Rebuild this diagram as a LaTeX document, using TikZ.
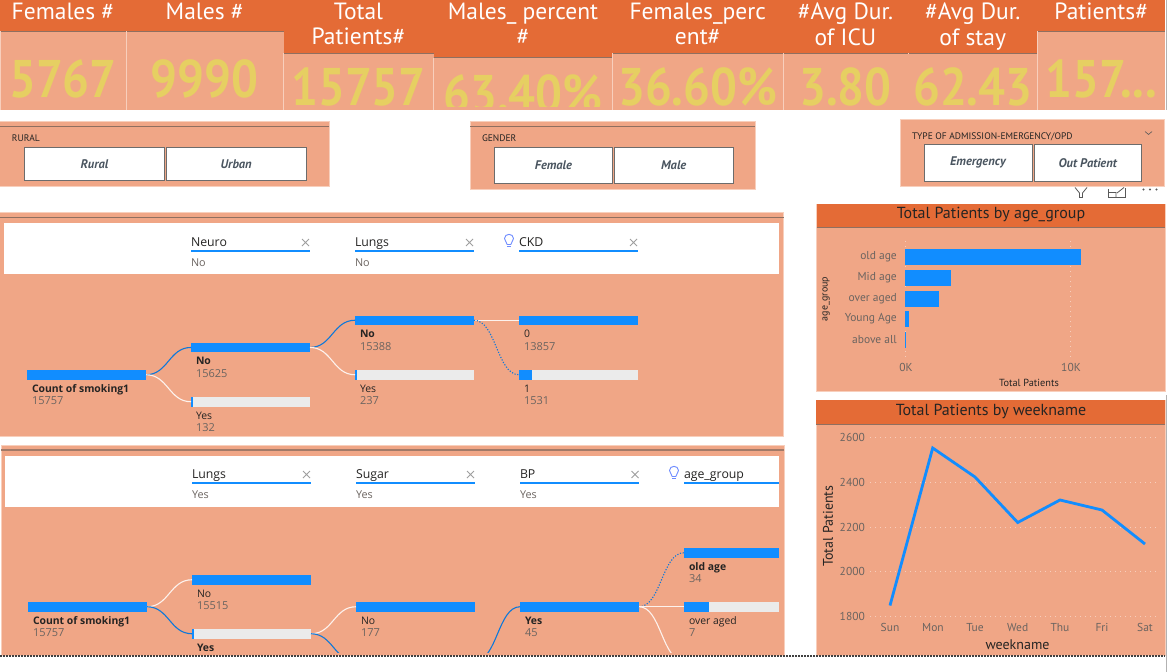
\documentclass[tikz,border=0pt]{standalone}
\usepackage{fontspec}
\setmainfont{Open Sans}
\newfontfamily\din{PT Sans}
\newfontfamily\seg{Open Sans}
\definecolor{hdr}{HTML}{E46B36}
\definecolor{body}{HTML}{F0A686}
\definecolor{edge}{HTML}{F8CFBC}
\definecolor{rule}{HTML}{8F6F60}
\definecolor{num}{HTML}{E6CF62}
\definecolor{pbi}{HTML}{118DFF}
\definecolor{track}{HTML}{EBEBEB}
\definecolor{ink}{HTML}{252423}
\definecolor{soft}{HTML}{6B6460}
\definecolor{slate}{HTML}{4A5560}
\definecolor{bulb}{HTML}{6F8CFF}
\tikzset{
  x=1pt,y=-1pt,
  txt/.style={inner sep=0pt,outer sep=0pt,anchor=base west},
  panel/.style={fill=body,draw=edge,line width=0.8pt},
  headband/.style={fill=hdr,draw=none},
  btn/.style={fill=white,draw=gray!85!black,line width=0.9pt},
  barnode/.style={inner sep=0pt,outer sep=0pt,anchor=north west,minimum height=9.5pt,draw=none},
  trackbar/.style={barnode,fill=track},
  bluebar/.style={barnode,fill=pbi},
  linkblue/.style={draw=pbi!85!black,line width=1.1pt},
  linkwhite/.style={draw=white!85!body,line width=1.1pt},
  linkdot/.style={draw=pbi!85!black,line width=1.1pt,dash pattern=on 1.2pt off 1.6pt},
  grid/.style={draw=white!45!body,line width=0.7pt,dash pattern=on 1pt off 4pt},
  field/.style={draw=pbi,line width=1.3pt},
  xmark/.style={draw=gray!75,line width=0.9pt},
  icon/.style={draw=gray!70!black,line width=0.8pt},
}
\newcommand{\kpicard}[7]{% name x0 x1 headbottom header value valuebaseline
  \fill[body] (#2,0) rectangle (#3,110);
  \fill[headband] (#2,0) rectangle (#3,#4);
  \draw[rule,line width=0.8pt] (#2,#4) -- (#3,#4);
  \draw[edge,line width=0.7pt] (#2,#4) -- (#2,110);
  \node[inner sep=0pt,outer sep=0pt,anchor=north,align=center,text=white,font=\din\fontsize{23.5}{25.5}\selectfont] (#1h) at ({(#2+#3)/2},3) {#5};
  \begin{scope}
    \clip (#2,#4) rectangle (#3,106.5);
    \node[inner sep=0pt,outer sep=0pt,anchor=base,text=num,font=\din\bfseries\fontsize{53}{53}\selectfont] (#1v) at ({(#2+#3)/2},#7) {\scalebox{0.895}[1]{#6}};
  \end{scope}
}
\newcommand{\slicerbtn}[6]{% name x0 y0 x1 y1 text
  \node[btn,inner sep=0pt,anchor=north west,minimum width={#4-#2},minimum height={#5-#3},text=slate,font=\din\bfseries\itshape\fontsize{12.5}{14}\selectfont] (#1) at (#2-0.5,#3) {#6};
}
\newcommand{\treebar}[8]{% name x ytop w fillw label value labelfont
  \node[trackbar,minimum width=#4] (#1) at (#2,#3) {};
  \node[bluebar,minimum width=#5] (#1f) at (#2,#3) {};
  \node[txt,text=ink,font=\seg#8\fontsize{10.4}{12}\selectfont] (#1l) at (#2+5,#3+22) {#6};
  \node[txt,text=soft,font=\seg\fontsize{11}{12}\selectfont] (#1v) at (#2+5,#3+34.5) {#7};
}
\newcommand{\treelink}[3]{\draw[#1] (#2.east) .. controls +(22,0) and +(-22,0) .. (#3.west);}
\newcommand{\fieldhead}[6]{% name x0 x1 y text sub
  \node[txt,text=ink,font=\seg\fontsize{12.3}{14}\selectfont] (#1t) at (#2,#4-5) {#5};
  \node[txt,text=soft,font=\seg\fontsize{10.8}{12}\selectfont] (#1s) at (#2,#4+15) {#6};
  \draw[field] (#2,#4) -- (#3,#4);
}
\newcommand{\xm}[2]{\draw[xmark] (#1-3.5,#2-3.5) -- (#1+3.5,#2+3.5) (#1-3.5,#2+3.5) -- (#1+3.5,#2-3.5);}
\newcommand{\bulbicon}[2]{%
  \draw[draw=bulb,line width=0.9pt] (#1-1.8,#2+3.5) .. controls (#1-2,#2+1) and (#1-4.5,#2) .. (#1-4.5,#2-2.5) .. controls (#1-4.5,#2-8) and (#1+4.5,#2-8) .. (#1+4.5,#2-2.5) .. controls (#1+4.5,#2) and (#1+2,#2+1) .. (#1+1.8,#2+3.5) -- cycle;
  \draw[draw=bulb,line width=0.9pt] (#1-1.8,#2+5.5) -- (#1+1.8,#2+5.5);
}
\begin{document}
\begin{tikzpicture}
\useasboundingbox (0,0) rectangle (1168,672);
\fill[white] (0,0) rectangle (1168,672);

% KPI cards
\kpicard{a}{0}{126}{31}{Females \#}{5767}{97}
\kpicard{b}{126}{283.5}{31}{Males \#}{9990}{97}
\kpicard{c}{283.5}{433.5}{53}{Total\\Patients\#}{15757}{105}
\kpicard{d}{433.5}{612.5}{57.5}{Males\_ percent\\\#}{63.40\%}{112}
\kpicard{e}{612.5}{783}{53}{Females\_perc\\ent\#}{36.60\%}{105}
\kpicard{f}{783}{908}{53}{\#Avg Dur.\\of ICU}{3.80}{105}
\kpicard{g}{908}{1037.5}{53}{\#Avg Dur.\\of stay}{62.43}{105}
\kpicard{h}{1037.5}{1165}{31}{Patients\#}{157...}{97}
\draw[body,line width=0.9pt] (908,54) -- (908,110);

% Slicers
\fill[panel] (-2,121) rectangle (329,186);
\draw[rule,line width=0.9pt] (0,126) -- (329,126);
\node[txt,text=ink,font=\din\fontsize{9.5}{11}\selectfont] (s1l) at (12,141) {RURAL};
\slicerbtn{s1a}{24.5}{147}{164.5}{180}{Rural}
\slicerbtn{s1b}{166}{147}{306.5}{180}{Urban}

\fill[panel] (470,121) rectangle (755,189);
\draw[rule,line width=0.9pt] (470,126) -- (755,126);
\node[txt,text=ink,font=\din\fontsize{9.5}{11}\selectfont] (s2l) at (482,141) {GENDER};
\slicerbtn{s2a}{494.5}{147}{612.5}{183}{Female}
\slicerbtn{s2b}{614.5}{147}{733}{183}{Male}

\fill[panel] (900,119) rectangle (1164,186.5);
\node[txt,text=ink,font=\din\fontsize{9.5}{11}\selectfont] (s3l) at (912,139) {TYPE OF ADMISSION-EMERGENCY/OPD};
\slicerbtn{s3a}{924}{144}{1032}{180.5}{Emergency}
\slicerbtn{s3b}{1034}{144}{1141.5}{180.5}{Out Patient}
\draw[icon,line width=0.6pt] (1145,131.5) -- (1148.5,134.5) -- (1152,131.5);

% Visual header icons
\draw[icon] (1075,187.5) -- (1079.5,193) -- (1079.5,197.5) -- (1082.5,197.5) -- (1082.5,193) -- (1087,187.5);
\draw[icon] (1108,189) -- (1108,197.5) -- (1125,197.5) -- (1125,187.5);
\draw[icon] (1108,192.5) -- (1116,192.5) -- (1116,197.5) (1117,193) -- (1124,187.5);
\fill[gray!70!black] (1143.5,189.5) circle (1.1) (1150,189.5) circle (1.1) (1156.5,189.5) circle (1.1);

% Decomposition tree 1
\fill[panel] (-2,212) rectangle (783.5,436);
\draw[rule,line width=0.9pt] (0,217.5) -- (783.5,217.5);
\fill[white] (4,223) rectangle (779,274);
\fieldhead{p1a}{191}{310}{251}{Neuro}{No}
\fieldhead{p1b}{355}{474}{251}{Lungs}{No}
\fieldhead{p1c}{519}{638}{251}{CKD}{}
\xm{305.5}{242.5}\xm{469.5}{242.5}\xm{633.5}{242.5}
\bulbicon{509}{241}
\treebar{t1r}{27}{370}{119}{119}{Count of smoking1}{15757}{\bfseries}
\treebar{t1a}{191}{342.7}{119}{119}{No}{15625}{\bfseries}
\treebar{t1b}{191}{397}{119}{1.5}{Yes}{132}{}
\treebar{t1c}{355}{315.5}{119}{119}{No}{15388}{\bfseries}
\treebar{t1d}{355}{370}{119}{2}{Yes}{237}{}
\treebar{t1e}{519}{315.5}{119}{119}{0}{13857}{}
\treebar{t1g}{519}{370}{119}{13}{1}{1531}{}
\treelink{linkblue}{t1r}{t1a}
\treelink{linkwhite}{t1r}{t1b}
\treelink{linkblue}{t1a}{t1c}
\treelink{linkwhite}{t1a}{t1d}
\draw[linkwhite] (t1c.east) -- (t1e.west);
\treelink{linkdot}{t1c}{t1g}

% Decomposition tree 2
\fill[panel] (1,445) rectangle (784,655);
\draw[rule!80!body,line width=2pt] (1,450) -- (784,450);
\fill[white] (5,455.5) rectangle (779,507);
\fieldhead{p2a}{192}{311}{483}{Lungs}{Yes}
\fieldhead{p2b}{356}{475}{483}{Sugar}{Yes}
\fieldhead{p2c}{520}{639}{483}{BP}{Yes}
\fieldhead{p2d}{684}{779}{483}{age\_group}{}
\xm{306.5}{474.5}\xm{470.5}{474.5}\xm{635}{474.5}
\bulbicon{674}{473}
\begin{scope}
\clip (0,445) rectangle (1168,652);
\treebar{t2r}{28}{602}{119}{119}{Count of smoking1}{15757}{\bfseries}
\treebar{t2a}{192}{575}{119}{119}{No}{15515}{}
\treebar{t2b}{192}{629}{119}{2}{Yes}{}{\bfseries}
\treebar{t2c}{356}{602}{119}{119}{No}{177}{}
\treebar{t2d}{520}{602}{119}{119}{Yes}{45}{\bfseries}
\treebar{t2e}{684}{548}{95}{95}{old age}{34}{\bfseries}
\treebar{t2f}{684}{602}{95}{25}{over aged}{7}{}
\coordinate (t2x) at (356,661);
\coordinate (t2y) at (475,661);
\coordinate (t2z) at (684,661);
\treelink{linkwhite}{t2r}{t2a}
\treelink{linkblue}{t2r}{t2b}
\treelink{linkwhite}{t2b}{t2c}
\draw[linkblue] (t2b.east) .. controls +(22,0) and +(-22,0) .. (t2x);
\draw[linkblue] (t2y) .. controls +(22,0) and +(-22,0) .. (t2d.west);
\treelink{linkdot}{t2d}{t2e}
\draw[linkwhite] (t2d.east) -- (t2f.west);
\draw[linkwhite] (t2d.east) .. controls +(22,0) and +(-22,0) .. (t2z);
\end{scope}

% Bar chart
\fill[panel] (816.5,204) rectangle (1165,391);
\fill[headband] (816.5,204) rectangle (1165,227.5);
\draw[rule,line width=0.8pt] (816.5,227.5) -- (1165,227.5);
\node[inner sep=0pt,text=ink,font=\din\fontsize{16}{18}\selectfont] (c1t) at (991,215) {Total Patients by age\_group};
\draw[grid] (905.5,241) -- (905.5,357);
\draw[grid] (1070.5,241) -- (1070.5,357);
\foreach \nm/\yy/\xx/\lab in {q1/249/1081/old age,q2/269.5/951/Mid age,q3/290.5/939/over aged,q4/311/908.5/Young Age,q5/332/906/above all}{
  \fill[pbi] (905,\yy) rectangle (\xx,\yy+16);
  \node[inner sep=0pt,anchor=east,text=soft,font=\din\fontsize{11.5}{13}\selectfont] (\nm) at (897,\yy+8) {\lab};
}
\node[inner sep=0pt,rotate=90,text=ink,font=\din\fontsize{10}{12}\selectfont] (c1y) at (826,299) {age\_group};
\node[inner sep=0pt,text=soft,font=\din\fontsize{11.5}{13}\selectfont] (c1x0) at (906,367) {0K};
\node[inner sep=0pt,text=soft,font=\din\fontsize{11.5}{13}\selectfont] (c1x1) at (1071,367) {10K};
\node[inner sep=0pt,text=ink,font=\din\fontsize{10.3}{12}\selectfont] (c1x) at (1029,383) {Total Patients};

% Line chart
\fill[panel] (816,400) rectangle (1165,655);
\fill[headband] (816,400) rectangle (1165,424);
\draw[rule,line width=0.8pt] (816,424) -- (1165,424);
\node[inner sep=0pt,text=ink,font=\din\fontsize{16}{18}\selectfont] (c2t) at (991,411) {Total Patients by weekname};
\foreach \nm/\yy/\lab in {r1/437.7/2600,r2/482/2400,r3/527/2200,r4/571.5/2000,r5/616/1800}{
  \draw[grid] (870,\yy) -- (1160,\yy);
  \node[inner sep=0pt,anchor=east,text=soft,font=\din\fontsize{11.5}{13}\selectfont] (\nm) at (865,\yy) {\lab};
}
\draw[pbi,line width=2.8pt,line join=miter] (890,605.5) -- (932.7,448) -- (975,477) -- (1017.7,522.5) -- (1060,500) -- (1102,510) -- (1145,544);
\foreach \nm/\xx/\lab in {w1/890/Sun,w2/933/Mon,w3/975/Tue,w4/1017.7/Wed,w5/1060/Thu,w6/1102/Fri,w7/1145/Sat}{
  \node[inner sep=0pt,text=soft,font=\din\fontsize{11.5}{13}\selectfont] (\nm) at (\xx,627.5) {\lab};
}
\node[inner sep=0pt,text=ink,font=\din\fontsize{14}{16}\selectfont] (c2x) at (1017.5,645) {weekname};
\node[inner sep=0pt,rotate=90,text=ink,font=\din\fontsize{14}{16}\selectfont] (c2y) at (828,526) {Total Patients};

% Canvas edges
\draw[black!75,line width=1.5pt,dash pattern=on 1.5pt off 1.5pt] (0,656) -- (1165,656);
\draw[gray!60,line width=0.8pt] (1166,0) -- (1166,110) (1166,395) -- (1166,672);
\end{tikzpicture}
\end{document}
